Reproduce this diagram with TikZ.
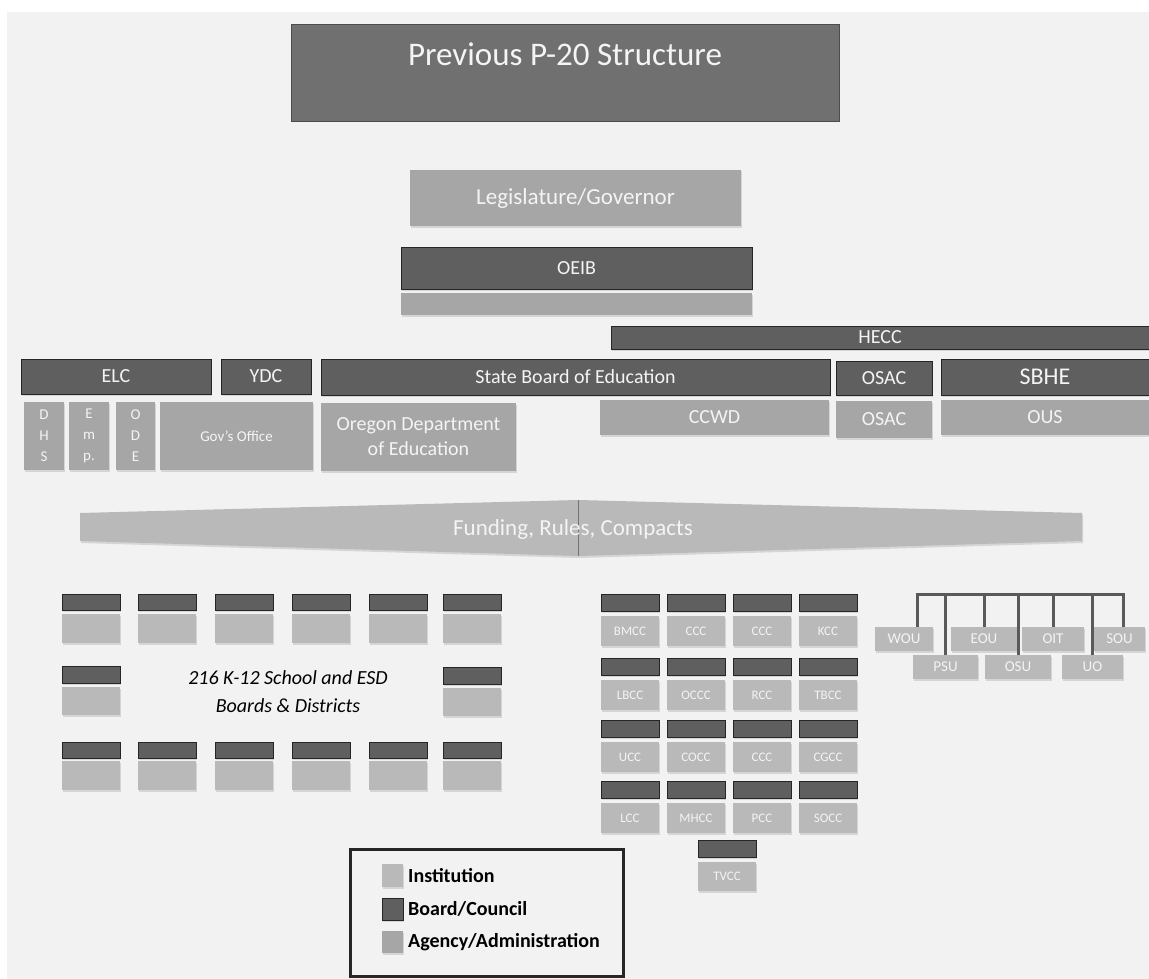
\documentclass[tikz,border=0pt]{standalone}
\usepackage{fontspec}
\setmainfont{Carlito}
\usetikzlibrary{positioning, shadows}
\definecolor{bggray}{HTML}{F2F2F2}
\definecolor{titlegray}{HTML}{707070}
\definecolor{boardgray}{HTML}{5F5F5F}
\definecolor{agencygray}{HTML}{A6A6A6}
\definecolor{instgray}{HTML}{B9B9B9}
\definecolor{textwhite}{HTML}{F4F4F4}
\definecolor{linegray}{HTML}{5A5A5A}
\tikzset{
  sz/.style 2 args={minimum width=#1pt, minimum height=#2pt},
  basebox/.style={inner sep=0pt, outer sep=0pt, anchor=north west, text=textwhite, align=center,
    font=\fontsize{20}{24}\selectfont,
    drop shadow={opacity=0.25, shadow xshift=1.2pt, shadow yshift=-1.5pt}},
  boardbox/.style={basebox, fill=boardgray, draw=black!85, line width=0.8pt},
  agencybox/.style={basebox, fill=agencygray},
  instbox/.style={basebox, fill=instgray},
  smallfont/.style={font=\fontsize{15}{21}\selectfont},
  cclabel/.style={font=\fontsize{13}{16}\selectfont},
  uline/.style={draw=linegray, line width=3pt, line join=miter},
  legtext/.style={anchor=west, inner sep=0pt, text=black, font=\bfseries\fontsize{20}{24}\selectfont}
}
\begin{document}
\begin{tikzpicture}[x=1pt, y=-1pt]
  \useasboundingbox (0,0) rectangle (1149,979);
  \fill[white] (0,0) rectangle (1149,979);
  \fill[bggray] (7,12) rectangle (1149,979);

  % Title and top levels
  \node[basebox, fill=titlegray, draw=black!70, line width=0.6pt, minimum width=548pt,
    text height=36pt, text depth=49pt, inner ysep=6pt, font=\fontsize{33}{40}\selectfont]
    (title) at (291,24) {Previous P-20 Structure};
  \node[agencybox, sz={331}{56}, font=\fontsize{23}{28}\selectfont] (legis) at (410,170) {Legislature/Governor};
  \node[boardbox, sz={351}{42}] (oeib) at (401,247) {OEIB};
  \node[agencybox, sz={351}{22}] (oeibbar) at (401,293) {};
  \node[boardbox, sz={538}{23}] (hecc) at (611,326) {HECC};

  % Boards
  \node[boardbox, sz={190}{35}] (elc) at (21,359) {ELC};
  \node[boardbox, sz={90}{35}] (ydc) at (221,359) {YDC};
  \node[boardbox, sz={509}{36}] (sbe) at (321,359) {State Board of Education};
  \node[boardbox, sz={96}{34}] (osac) at (836,361) {OSAC};
  \node[boardbox, sz={208}{36}, font=\fontsize{24}{28}\selectfont] (sbhe) at (941,359) {SBHE};

  % Agencies
  \node[agencybox, smallfont, sz={40}{68}] (dhs) at (24,402) {D\\H\\S};
  \node[agencybox, smallfont, sz={40}{68}] (emp) at (69,402) {E\\m\\p.};
  \node[agencybox, smallfont, sz={39}{68}] (ode) at (116,402) {O\\D\\E};
  \node[agencybox, smallfont, sz={153}{68}] (govoff) at (160,402) {Gov's Office};
  \node[agencybox, sz={195}{68}, font=\fontsize{20}{25}\selectfont] (odept) at (321,403) {Oregon Department\\of Education};
  \node[agencybox, sz={229}{35}] (ccwd) at (600,400) {CCWD};
  \node[agencybox, sz={96}{37}] (osacag) at (836,401) {OSAC};
  \node[agencybox, sz={208}{35}] (ous) at (941,400) {OUS};

  % Funding, Rules, Compacts
  \fill[instgray, drop shadow={opacity=0.25, shadow xshift=1.2pt, shadow yshift=-2pt}]
    (80,513) -- (578,500) -- (1082,513) -- (1082,541) -- (578,556) -- (80,541) -- cycle;
  \draw[black!55, line width=0.8pt] (578,500) -- (578,556);
  \node[text=textwhite, font=\fontsize{23}{28}\selectfont] (funding) at (573,529) {Funding, Rules, Compacts};

  % K-12 boards and districts
  \foreach \x [count=\i] in {62,138,215,292,369,443} {
    \node[boardbox, sz={58}{16}] (kbtop-\i) at (\x,594) {};
    \node[instbox, sz={58}{29}, below=4pt of kbtop-\i] (kitop-\i) {};
    \node[boardbox, sz={58}{16}] (kbbot-\i) at (\x,742) {};
    \node[instbox, sz={58}{29}, below=3pt of kbbot-\i] (kibot-\i) {};
  }
  \node[boardbox, sz={58}{17}] (kbmid-1) at (62,666) {};
  \node[instbox, sz={58}{28}, below=4pt of kbmid-1] (kimid-1) {};
  \node[boardbox, sz={58}{17}] (kbmid-6) at (443,667) {};
  \node[instbox, sz={58}{28}, below=4pt of kbmid-6] (kimid-6) {};
  \node[align=center, font=\itshape\fontsize{20}{28}\selectfont] (k12) at (288,692)
    {216 K-12 School and ESD\\Boards \& Districts};

  % Community colleges
  \foreach \y/\r/\labs in {594/1/{BMCC,CCC,CCC,KCC}, 658/2/{LBCC,OCCC,RCC,TBCC},
                           720/3/{UCC,COCC,CCC,CGCC}, 781/4/{LCC,MHCC,PCC,SOCC}} {
    \foreach \l [count=\i] in \labs {
      \node[boardbox, sz={58}{17}] (ccb-\r-\i) at ({601+66*(\i-1)},\y) {};
      \node[instbox, cclabel, sz={58}{30}, below=5pt of ccb-\r-\i] (cc-\r-\i) {\l};
    }
  }
  \node[boardbox, sz={58}{17}] (ccb-tvcc) at (698,840) {};
  \node[instbox, cclabel, sz={58}{29}, below=5pt of ccb-tvcc] (tvcc) {TVCC};

  % Universities
  \coordinate (ubar) at (0,594);
  \node[instbox, smallfont, sz={58}{24}] (wou) at (875,627) {WOU};
  \node[instbox, smallfont, sz={66}{24}] (eou) at (951,627) {EOU};
  \node[instbox, smallfont, sz={62}{24}] (oit) at (1022,627) {OIT};
  \node[instbox, smallfont, sz={51}{24}] (sou) at (1094,627) {SOU};
  \node[instbox, smallfont, sz={65}{24}] (psu) at (913,655) {PSU};
  \node[instbox, smallfont, sz={66}{24}] (osu) at (985,655) {OSU};
  \node[instbox, smallfont, sz={61}{24}] (uo) at (1062,655) {UO};
  \draw[uline] ([xshift=13pt]wou.north) -- ++(0,-33) -| ([xshift=4pt]sou.north);
  \foreach \u in {psu,eou,osu,oit,uo}
    \draw[uline] (\u.north) -- (\u.north |- ubar);

  % Legend
  \node[draw=black!85, line width=2.5pt, inner sep=0pt, anchor=north west, sz={273}{127}] (legend) at (349,848) {};
  \node[instbox, sz={21}{23}] (leginst) at (382,864) {};
  \node[boardbox, sz={21}{22}] (legboard) at (382,898) {};
  \node[agencybox, sz={21}{22}] (legagency) at (382,931) {};
  \node[legtext, right=5pt of leginst] (legtinst) {Institution};
  \node[legtext, right=5pt of legboard] (legtboard) {Board/Council};
  \node[legtext, right=5pt of legagency] (legtagency) {Agency/Administration};
\end{tikzpicture}
\end{document}
